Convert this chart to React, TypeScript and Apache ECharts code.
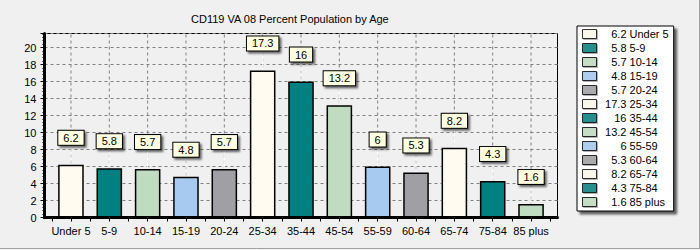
import React, { useEffect, useRef } from "react";
import * as echarts from "echarts";

// Age groups along the x axis
const categories: string[] = [
  "Under 5", "5-9", "10-14", "15-19", "20-24", "25-34", "35-44",
  "45-54", "55-59", "60-64", "65-74", "75-84", "85 plus",
];

// Percent of population in each age group
const percents: number[] = [6.2, 5.8, 5.7, 4.8, 5.7, 17.3, 16, 13.2, 6, 5.3, 8.2, 4.3, 1.6];

// Fill colours, repeated in order across the bars
const palette: string[] = ["#FFFBF0", "#008080", "#C0DCC0", "#A6CAF0", "#A0A0A4"];

const TITLE = "CD119 VA 08 Percent Population by Age";
const Y_MAX = 21.65;
const FONT = 'Arial, "Liberation Sans", sans-serif';
const VALUE_COL = 25; // width of the right-aligned value column in the legend

function measure(text: string, font: string): number {
  const ctx = document.createElement("canvas").getContext("2d");
  if (!ctx) return text.length * 6;
  ctx.font = font;
  return ctx.measureText(text).width;
}

export default function App() {
  const ref = useRef<HTMLDivElement>(null);

  useEffect(() => {
    document.body.style.margin = "0";
    if (!ref.current) return;
    const chart = echarts.init(ref.current, null, { renderer: "svg" });

    const colorAt = (i: number) => palette[i % palette.length];
    const barData = percents.map((v, i) => ({
      value: [i, v],
      itemStyle: { color: colorAt(i) },
    }));
    const points = percents.map((v, i) => [i, v]);
    const centers = categories.map((_, i) => [i, 0]);
    const halfTicks: number[] = [];
    for (let i = 0; i <= categories.length * 2; i++) halfTicks.push(-0.5 + i * 0.5);

    // Legend rows: value right-aligned in a fixed column, then the group name
    const rich: Record<string, any> = {
      n: { fontSize: 11, lineHeight: 14, color: "#000", fontFamily: FONT },
    };
    percents.forEach((v, i) => {
      const w = measure(String(v), `11px ${FONT}`);
      rich["v" + i] = {
        fontSize: 11,
        lineHeight: 14,
        color: "#000",
        fontFamily: FONT,
        padding: [0, 0, 0, Math.max(0, VALUE_COL - w)],
      };
    });

    // One empty series per age group, so the legend can list each group
    const legendSeries = categories.map((name, i) => ({
      type: "scatter",
      name,
      data: [],
      itemStyle: { color: colorAt(i) },
    }));

    chart.setOption({
      animation: false,
      backgroundColor: "#F0F0F0",
      textStyle: { fontFamily: FONT },
      title: {
        text: TITLE,
        left: 191,
        top: 12,
        padding: 0,
        textStyle: { fontSize: 11, fontWeight: "normal", color: "#000", lineHeight: 13, fontFamily: FONT },
      },
      grid: {
        left: 44.5,
        top: 33.5,
        width: 513,
        height: 184,
        show: true,
        borderColor: "#000",
        borderWidth: 1,
        backgroundColor: "transparent",
      },
      legend: {
        orient: "vertical",
        left: 577,
        top: 26,
        padding: [1, 5, 2, 5],
        itemWidth: 14,
        itemHeight: 9,
        itemGap: 0,
        icon: "rect",
        backgroundColor: "#FFFFFF",
        borderColor: "#000",
        borderWidth: 1,
        shadowColor: "rgba(0,0,0,0.6)",
        shadowBlur: 2,
        shadowOffsetX: 3,
        shadowOffsetY: 3,
        itemStyle: {
          borderColor: "#000",
          borderWidth: 1,
          shadowColor: "rgba(0,0,0,0.35)",
          shadowBlur: 1,
          shadowOffsetX: 1,
          shadowOffsetY: 1,
        },
        data: categories,
        formatter: (name: string) => {
          const i = categories.indexOf(name);
          return `{v${i}|${percents[i]}}{n| ${name}}`;
        },
        textStyle: {
          fontSize: 11,
          lineHeight: 14,
          color: "#000",
          fontFamily: FONT,
          rich,
        },
      },
      xAxis: {
        type: "value",
        min: -0.69,
        max: categories.length - 1 + 0.69,
        axisLine: { show: true, onZero: false, lineStyle: { color: "#000", width: 3 } },
        axisTick: {
          show: true,
          length: 4,
          customValues: halfTicks,
          lineStyle: { color: "#000", width: 1 },
        },
        axisLabel: {
          customValues: categories.map((_, i) => i),
          formatter: (v: number) => categories[Math.round(v)] ?? "",
          fontSize: 11,
          color: "#000",
          margin: 8,
          fontFamily: FONT,
        },
        splitLine: { show: false },
      },
      yAxis: {
        type: "value",
        min: 0,
        max: Y_MAX,
        interval: 2,
        axisLine: { show: true, onZero: false, lineStyle: { color: "#000", width: 3 } },
        axisTick: { show: true, length: 4, lineStyle: { color: "#000", width: 1 } },
        minorTick: { show: true, splitNumber: 5, length: 2, lineStyle: { color: "#000", width: 1 } },
        axisLabel: {
          fontSize: 11,
          color: "#000",
          margin: 8,
          showMaxLabel: false,
          fontFamily: FONT,
          formatter: (v: number) => (Number.isInteger(v) ? String(v) : ""),
        },
        splitLine: { show: true, lineStyle: { color: "#808080", type: [3, 3], width: 1 } },
      },
      series: [
        // dashed vertical guides at each category centre
        {
          type: "custom",
          z: 1,
          silent: true,
          data: centers,
          renderItem: (_p: any, api: any) => {
            const a = api.coord([api.value(0), 0]);
            const b = api.coord([api.value(0), Y_MAX]);
            return {
              type: "line",
              shape: { x1: a[0], y1: a[1], x2: b[0], y2: b[1] },
              style: { stroke: "#808080", lineWidth: 1, lineDash: [3, 3] },
            };
          },
        },
        {
          type: "bar",
          z: 3,
          barWidth: 25.6,
          data: barData,
          itemStyle: { borderColor: "#000", borderWidth: 1.5 },
          label: {
            show: true,
            position: "top",
            distance: 20,
            formatter: (p: any) => String(p.value[1]),
            fontSize: 11,
            lineHeight: 12,
            color: "#000",
            fontFamily: FONT,
            backgroundColor: "#FFFFE1",
            borderColor: "#000",
            borderWidth: 1,
            padding: [1, 5, 1, 5],
            shadowColor: "rgba(0,0,0,0.6)",
            shadowBlur: 2,
            shadowOffsetX: 2,
            shadowOffsetY: 2,
          },
        },
        // white leader from each bar top up to its value box
        {
          type: "custom",
          z: 2,
          silent: true,
          data: points,
          renderItem: (_p: any, api: any) => {
            const p = api.coord([api.value(0), api.value(1)]);
            return {
              type: "line",
              shape: { x1: p[0], y1: p[1], x2: p[0], y2: p[1] - 20 },
              style: { stroke: "#FFFFFF", lineWidth: 1 },
            };
          },
        },
        ...legendSeries,
      ],
      graphic: [
        { type: "line", shape: { x1: 0, y1: 248.5, x2: 700, y2: 248.5 }, style: { stroke: "#A0A0A0", lineWidth: 1 } },
        { type: "line", shape: { x1: 699.5, y1: 0, x2: 699.5, y2: 249 }, style: { stroke: "#A0A0A0", lineWidth: 1 } },
      ],
    });

    return () => chart.dispose();
  }, []);

  return <div ref={ref} style={{ width: 700, height: 250 }} />;
}
